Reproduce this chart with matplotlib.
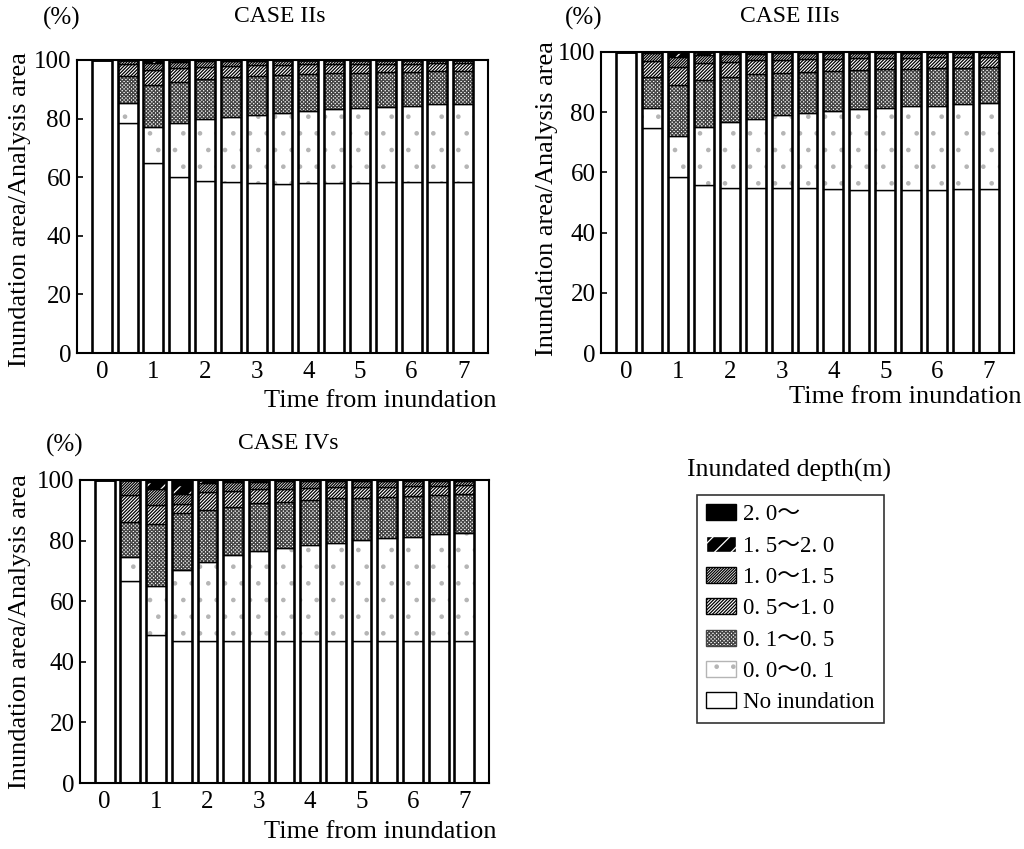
import numpy as np
import matplotlib.pyplot as plt
from matplotlib.patches import Patch

plt.rcParams['font.family'] = ['Liberation Serif', 'Noto Sans CJK JP']
plt.rcParams['hatch.linewidth'] = 0.9

# time from inundation (hours), one bar every half hour
times = np.arange(0, 7.01, 0.5)

# CASE IIs  (percent of analysis area)
c2_none = [100, 78.4, 64.7, 60.2, 58.7, 58.3, 57.9, 57.7, 57.9, 57.9, 57.9, 58.2, 58.3, 58.3, 58.3]
c2_d00 = [0, 7.0, 12.3, 18.4, 21.2, 22.4, 23.3, 24.3, 24.8, 25.3, 25.8, 25.9, 26.1, 26.6, 26.6]
c2_d01 = [0, 9.1, 14.5, 14.0, 13.5, 13.4, 13.3, 12.9, 12.5, 12.2, 12.0, 11.7, 11.4, 11.2, 11.2]
c2_d05 = [0, 4.0, 5.0, 4.5, 4.2, 3.9, 3.7, 3.5, 3.3, 3.2, 3.0, 3.0, 3.0, 2.8, 2.8]
c2_d10 = [0, 1.5, 2.5, 2.2, 2.0, 1.8, 1.6, 1.5, 1.4, 1.3, 1.2, 1.1, 1.1, 1.0, 1.0]
c2_d15 = [0, 0, 1.0, 0.7, 0.4, 0.2, 0.2, 0.1, 0.1, 0.1, 0.1, 0.1, 0.1, 0.1, 0.1]
c2_d20 = [0] * 15

# CASE IIIs
c3_none = [100, 74.6, 58.6, 55.8, 54.9, 54.7, 54.7, 54.7, 54.4, 54.2, 54.2, 54.2, 54.2, 54.4, 54.4]
c3_d00 = [0, 6.7, 13.6, 19.2, 22.0, 23.0, 24.3, 24.9, 26.0, 26.8, 27.3, 27.7, 28.0, 28.2, 28.8]
c3_d01 = [0, 10.3, 16.8, 15.7, 14.9, 14.9, 14.1, 13.9, 13.4, 13.0, 12.7, 12.6, 12.4, 12.2, 11.9]
c3_d05 = [0, 5.5, 6.0, 5.5, 5.0, 4.6, 4.4, 4.2, 4.0, 3.9, 3.8, 3.6, 3.6, 3.5, 3.3]
c3_d10 = [0, 2.5, 3.5, 2.8, 2.5, 2.3, 2.1, 2.0, 1.9, 1.8, 1.7, 1.6, 1.5, 1.4, 1.3]
c3_d15 = [0, 0.4, 1.5, 1.0, 0.7, 0.5, 0.4, 0.3, 0.3, 0.3, 0.3, 0.3, 0.3, 0.3, 0.3]
c3_d20 = [0] * 15

# CASE IVs
c4_none = [100, 66.8, 48.8, 47.0, 46.7, 46.7, 46.7, 46.7, 46.7, 46.7, 46.7, 46.7, 46.7, 46.7, 46.7]
c4_d00 = [0, 7.8, 16.2, 23.3, 26.3, 28.5, 30.0, 31.0, 31.8, 32.6, 33.5, 34.3, 34.6, 35.4, 35.9]
c4_d01 = [0, 11.5, 20.6, 18.8, 17.1, 16.0, 15.6, 15.1, 14.9, 14.6, 14.0, 13.4, 13.4, 12.9, 12.8]
c4_d05 = [0, 9.0, 6.0, 3.0, 6.0, 5.3, 4.6, 4.3, 4.0, 3.7, 3.5, 3.4, 3.2, 3.0, 2.8]
c4_d10 = [0, 4.9, 5.5, 3.4, 3.0, 3.0, 2.6, 2.5, 2.2, 2.0, 1.9, 1.8, 1.7, 1.6, 1.5]
c4_d15 = [0, 0, 2.4, 3.0, 0.9, 0.5, 0.5, 0.4, 0.4, 0.4, 0.4, 0.4, 0.4, 0.4, 0.3]
c4_d20 = [0, 0, 0.5, 1.5, 0, 0, 0, 0, 0, 0, 0, 0, 0, 0, 0]

yticks = [0, 20, 40, 60, 80, 100]
xticks = [0, 1, 2, 3, 4, 5, 6, 7]
legend_labels = ['2. 0～', '1. 5～2. 0', '1. 0～1. 5', '0. 5～1. 0',
                 '0. 1～0. 5', '0. 0～0. 1', 'No inundation']

# bottom -> top: face colour, hatch colour, hatch
styles = [
    ('white', 'white', None),
    ('white', '#b5b5b5', '.'),
    ('white', '#444444', 'x' * 9),
    ('white', 'black', '/' * 10),
    ('white', 'black', '/' * 12),
    ('black', 'white', '//'),
    ('black', 'black', None),
]

W = 0.385


def draw_case(ax, layers):
    bottom = np.zeros(len(times))
    for vals, (face, hcol, hatch) in zip(layers, styles):
        vals = np.array(vals, dtype=float)
        ax.bar(times, vals, W, bottom=bottom, color=face, edgecolor=hcol,
               hatch=hatch, linewidth=0)
        ax.bar(times, vals, W, bottom=bottom, fill=False, edgecolor='black',
               linewidth=1.0)
        bottom += vals
    ax.bar(times, bottom, W, fill=False, edgecolor='black', linewidth=1.8)
    ax.set_xlim(-0.48, 7.48)
    ax.set_ylim(0, 100)
    ax.set_yticks(yticks)
    ax.set_xticks(xticks)
    ax.tick_params(axis='y', direction='in', length=4, width=1.2, labelsize=18, pad=4)
    ax.tick_params(axis='x', length=0, labelsize=18, pad=6)
    for s in ax.spines.values():
        s.set_linewidth(1.5)


fig = plt.figure(figsize=(10.24, 8.49), dpi=100)
H = 849.0


def fx(px):
    return px / 1024.0


def fy(py):
    return 1 - py / H


ax1 = fig.add_axes([fx(77), fy(353), fx(488 - 77), (353 - 60) / H])
ax2 = fig.add_axes([fx(601), fy(353), fx(1014 - 601), (353 - 52) / H])
ax3 = fig.add_axes([fx(80), fy(783), fx(489 - 80), (783 - 480) / H])

draw_case(ax1, [c2_none, c2_d00, c2_d01, c2_d05, c2_d10, c2_d15, c2_d20])
draw_case(ax2, [c3_none, c3_d00, c3_d01, c3_d05, c3_d10, c3_d15, c3_d20])
draw_case(ax3, [c4_none, c4_d00, c4_d01, c4_d05, c4_d10, c4_d15, c4_d20])

ylab = 'Inundation area/Analysis area'
xlab = 'Time from inundation'
for (tx, ty, title, px, py, lx, ly, yx, yy) in [
        (280, 17, 'CASE IIs', 62, 18, 380, 401, 20, 210),
        (790, 17, 'CASE IIIs', 584, 18, 905, 397, 547, 199),
        (288, 443, 'CASE IVs', 65, 445, 380, 832, 20, 632)]:
    fig.text(fx(tx), fy(ty), title, ha='center', va='center', fontsize=17)
    fig.text(fx(px), fy(py), '(%)', ha='center', va='center', fontsize=18)
    fig.text(fx(lx), fy(ly), xlab, ha='center', va='center', fontsize=19)
    fig.text(fx(yx), fy(yy), ylab, ha='center', va='center', fontsize=19,
             rotation=90)

fig.text(fx(789), fy(470), 'Inundated depth(m)', ha='center', va='center', fontsize=18.5)

handles = []
for face, hcol, hatch in styles[::-1]:
    handles.append(Patch(facecolor=face, edgecolor='black' if hatch is None else hcol,
                         hatch=hatch, linewidth=1.0))
leg = fig.legend(handles, legend_labels, loc='upper left',
                 bbox_to_anchor=(fx(697), fy(495)), borderaxespad=0, fontsize=16.5,
                 frameon=True, fancybox=False, edgecolor='black',
                 handlelength=1.3, handleheight=0.7, handletextpad=0.3,
                 labelspacing=0.45, borderpad=0.4)
leg.get_frame().set_linewidth(1.2)

fig.savefig('out.png', dpi=100)
